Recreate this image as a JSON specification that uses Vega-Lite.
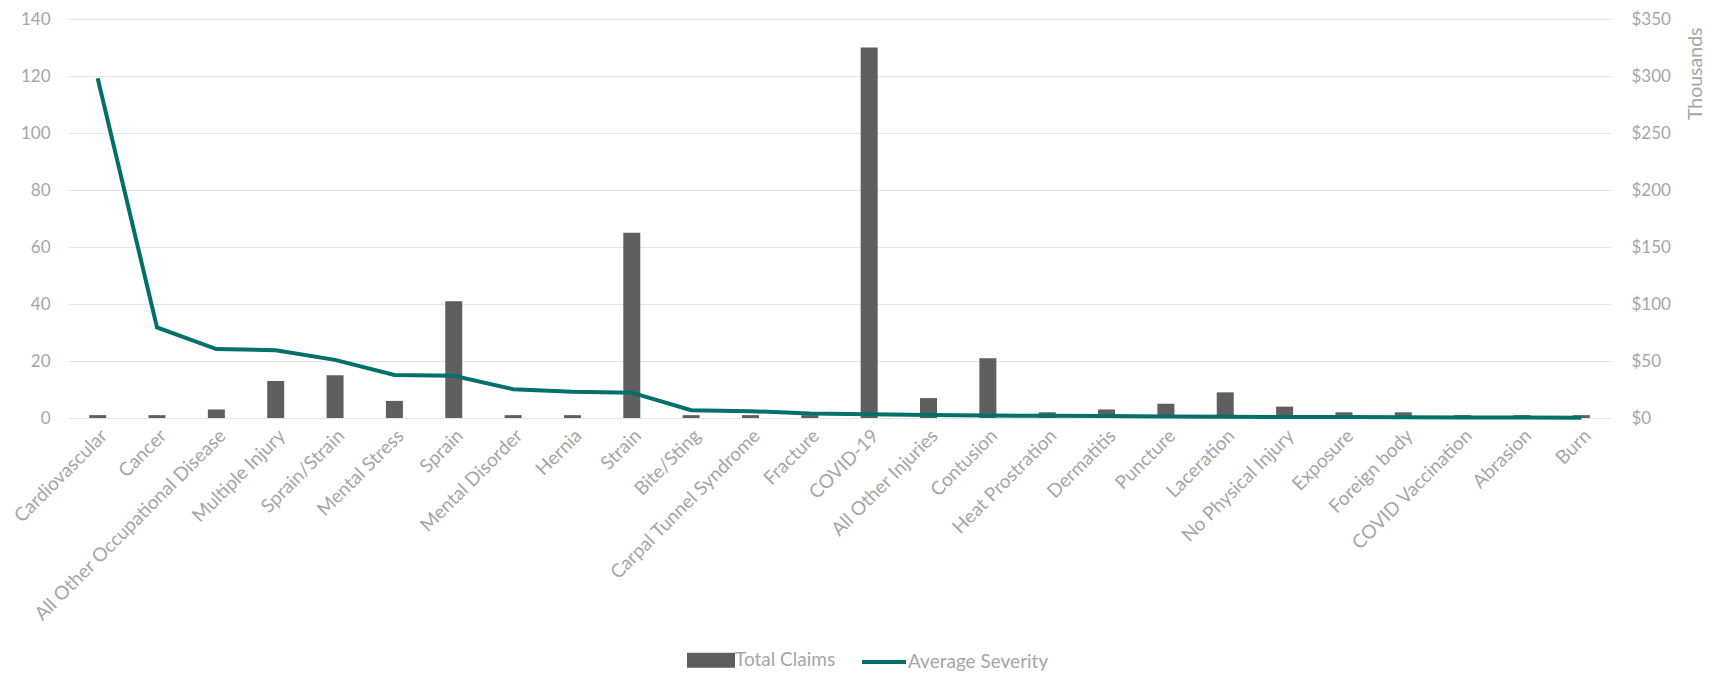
{
  "$schema": "https://vega.github.io/schema/vega-lite/v6.json",
  "width": 1543,
  "height": 399,
  "autosize": {"type": "none"},
  "padding": {"left": 68, "top": 19, "right": 106, "bottom": 255},
  "background": "white",
  "config": {
    "view": {"stroke": null},
    "font": "Lato",
    "axis": {"labelColor": "#a6a6a6", "titleColor": "#a6a6a6", "labelFont": "Lato", "titleFont": "Lato"}
  },
  "data": {
    "values": [
      {"Category": "Cardiovascular", "Total Claims": 1, "Average Severity": 298000},
      {"Category": "Cancer", "Total Claims": 1, "Average Severity": 79500},
      {"Category": "All Other Occupational Disease", "Total Claims": 3, "Average Severity": 60500},
      {"Category": "Multiple Injury", "Total Claims": 13, "Average Severity": 59500},
      {"Category": "Sprain/Strain", "Total Claims": 15, "Average Severity": 51000},
      {"Category": "Mental Stress", "Total Claims": 6, "Average Severity": 37800},
      {"Category": "Sprain", "Total Claims": 41, "Average Severity": 37000},
      {"Category": "Mental Disorder", "Total Claims": 1, "Average Severity": 25300},
      {"Category": "Hernia", "Total Claims": 1, "Average Severity": 23000},
      {"Category": "Strain", "Total Claims": 65, "Average Severity": 22200},
      {"Category": "Bite/Sting", "Total Claims": 1, "Average Severity": 6800},
      {"Category": "Carpal Tunnel Syndrome", "Total Claims": 1, "Average Severity": 6000},
      {"Category": "Fracture", "Total Claims": 1, "Average Severity": 4000},
      {"Category": "COVID-19", "Total Claims": 130, "Average Severity": 3200},
      {"Category": "All Other Injuries", "Total Claims": 7, "Average Severity": 2700},
      {"Category": "Contusion", "Total Claims": 21, "Average Severity": 2200},
      {"Category": "Heat Prostration", "Total Claims": 2, "Average Severity": 1900},
      {"Category": "Dermatitis", "Total Claims": 3, "Average Severity": 1700},
      {"Category": "Puncture", "Total Claims": 5, "Average Severity": 1400},
      {"Category": "Laceration", "Total Claims": 9, "Average Severity": 1100},
      {"Category": "No Physical Injury", "Total Claims": 4, "Average Severity": 900},
      {"Category": "Exposure", "Total Claims": 2, "Average Severity": 800},
      {"Category": "Foreign body", "Total Claims": 2, "Average Severity": 700},
      {"Category": "COVID Vaccination", "Total Claims": 1, "Average Severity": 500},
      {"Category": "Abrasion", "Total Claims": 1, "Average Severity": 400},
      {"Category": "Burn", "Total Claims": 1, "Average Severity": 300}
    ]
  },
  "encoding": {
    "x": {
      "field": "Category",
      "type": "nominal",
      "sort": null,
      "scale": {"paddingInner": 0, "paddingOuter": 0},
      "axis": {
        "title": null,
        "labelAngle": -45,
        "labelFontSize": 19,
        "labelPadding": 8,
        "labelLimit": 400,
        "ticks": false,
        "domain": false,
        "grid": false
      }
    }
  },
  "layer": [
    {
      "mark": {"type": "bar", "size": 17},
      "encoding": {
        "y": {
          "field": "Total Claims",
          "type": "quantitative",
          "scale": {"domain": [0, 140], "nice": false},
          "axis": {
            "title": null,
            "values": [0, 20, 40, 60, 80, 100, 120, 140],
            "grid": true,
            "gridColor": "#e4e4e4",
            "gridWidth": 1,
            "domain": false,
            "ticks": false,
            "labelPadding": 18,
            "labelFontSize": 17
          }
        },
        "color": {
          "datum": "Total Claims",
          "type": "nominal",
          "scale": {"domain": ["Total Claims", "Average Severity"], "range": ["#5f5f5f", "#00706b"]},
          "legend": {
            "title": null,
            "orient": "none",
            "direction": "horizontal",
            "legendX": 619,
            "legendY": 617,
            "labelFontSize": 19,
            "labelColor": "#a6a6a6",
            "labelOffset": 0,
            "columnPadding": 18,
            "symbolSize": 1936,
            "encode": {
              "symbols": {
                "update": {
                  "shape": {"signal": "datum.value == 'Total Claims' ? 'M-1,-0.25H1V0.25H-1Z' : 'M-1,0H1'"},
                  "fill": {"signal": "datum.value == 'Total Claims' ? '#5f5f5f' : 'transparent'"},
                  "stroke": {"signal": "datum.value == 'Total Claims' ? 'transparent' : '#00706b'"},
                  "strokeWidth": {"value": 4},
                  "opacity": {"value": 1},
                  "size": {"value": 1936}
                }
              }
            }
          }
        }
      }
    },
    {
      "mark": {"type": "line", "strokeWidth": 4},
      "encoding": {
        "y": {
          "field": "Average Severity",
          "type": "quantitative",
          "scale": {"domain": [0, 350000], "nice": false},
          "axis": {
            "orient": "right",
            "title": "Thousands",
            "titleAngle": 270,
            "titleAlign": "right",
            "titleBaseline": "middle",
            "titleX": 84,
            "titleY": 8,
            "titleFontWeight": "normal",
            "titleFontSize": 19.5,
            "values": [0, 50000, 100000, 150000, 200000, 250000, 300000, 350000],
            "labelExpr": "'$' + format(datum.value / 1000, ',.0f')",
            "grid": false,
            "domain": false,
            "ticks": false,
            "labelPadding": 20,
            "labelFontSize": 17
          }
        },
        "color": {"datum": "Average Severity", "type": "nominal"}
      }
    }
  ],
  "resolve": {"scale": {"y": "independent"}}
}
